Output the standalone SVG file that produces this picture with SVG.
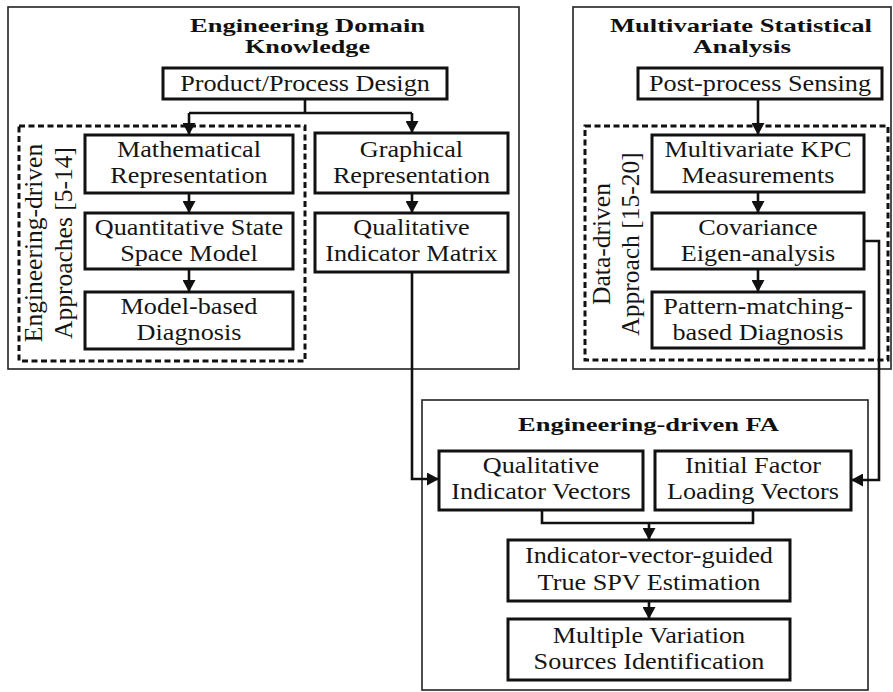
<svg xmlns="http://www.w3.org/2000/svg" width="893" height="692" viewBox="0 0 893 692">
  <defs>
    <marker id="arrow" viewBox="0 0 12 13" refX="12" refY="6.5" markerWidth="12" markerHeight="13" markerUnits="userSpaceOnUse" orient="auto">
      <path d="M0,0 L12,6.5 L0,13 z" fill="#111"/>
    </marker>
    <style>
      .outer { fill: none; stroke: #222; stroke-width: 1.6; }
      .group { fill: none; stroke: #111; stroke-width: 3; stroke-dasharray: 6 3.5; }
      .box { fill: #fff; stroke: #111; stroke-width: 3; }
      .lbl { font-family: "Liberation Serif", "Times New Roman", serif; font-size: 23px; fill: #151515; text-anchor: middle;
             transform-box: fill-box; transform-origin: center; transform: scaleX(1.14); }
      .vlbl { font-family: "Liberation Serif", "Times New Roman", serif; font-size: 25.5px; fill: #151515; text-anchor: middle; }
      .title { font-family: "Liberation Serif", "Times New Roman", serif; font-size: 19px; font-weight: bold; fill: #111; text-anchor: middle; }
      .link { fill: none; stroke: #111; stroke-width: 2.6; }
      .arr { marker-end: url(#arrow); }
    </style>
  </defs>
  <rect width="893" height="692" fill="#fff"/>

  <!-- panels -->
  <g id="panel-domain">
    <rect class="outer" x="8" y="7" width="511" height="362"/>
    <text class="title" x="307.5" y="31.5" textLength="235" lengthAdjust="spacingAndGlyphs">Engineering Domain</text>
    <text class="title" x="307.5" y="53" textLength="125" lengthAdjust="spacingAndGlyphs">Knowledge</text>
  </g>
  <g id="panel-statistics">
    <rect class="outer" x="573" y="7" width="318" height="362"/>
    <text class="title" x="741" y="31.5" textLength="262" lengthAdjust="spacingAndGlyphs">Multivariate Statistical</text>
    <text class="title" x="742" y="53" textLength="98" lengthAdjust="spacingAndGlyphs">Analysis</text>
  </g>
  <g id="panel-fa">
    <rect class="outer" x="422" y="400" width="446" height="290"/>
    <text class="title" x="648.5" y="431" textLength="261" lengthAdjust="spacingAndGlyphs">Engineering-driven FA</text>
  </g>

  <!-- dashed approach groups -->
  <g id="group-engineering">
    <rect class="group" x="19" y="126" width="286" height="235"/>
    <text class="vlbl" transform="translate(42,243) rotate(-90)">Engineering-driven</text>
    <text class="vlbl" transform="translate(72,243) rotate(-90)">Approaches [5-14]</text>
  </g>
  <g id="group-data">
    <rect class="group" x="585" y="126" width="303" height="234"/>
    <text class="vlbl" transform="translate(610,244) rotate(-90)">Data-driven</text>
    <text class="vlbl" transform="translate(639,244) rotate(-90)">Approach [15-20]</text>
  </g>

  <!-- connectors -->
  <g id="connectors">
    <path class="link" d="M305,99 V113 M189,113 H412"/>
    <path class="link arr" d="M189,113 V135"/>
    <path class="link arr" d="M412,113 V133"/>
    <path class="link arr" d="M189,193 V213"/>
    <path class="link arr" d="M189,269 V292"/>
    <path class="link arr" d="M412,193 V213"/>
    <path class="link arr" d="M412,272 V479 H439"/>
    <path class="link arr" d="M758,99 V135"/>
    <path class="link arr" d="M758,192 V213"/>
    <path class="link arr" d="M758,269 V292"/>
    <path class="link arr" d="M864,241 H879 V480 H851"/>
    <path class="link" d="M542,510 V523 H753 V510"/>
    <path class="link arr" d="M649,523 V540"/>
    <path class="link arr" d="M649,601 V619"/>
  </g>

  <!-- nodes -->
  <g id="product-process-design">
    <rect class="box" x="163" y="68" width="284" height="31"/>
    <text class="lbl" x="305" y="91">Product/Process Design</text>
  </g>
  <g id="mathematical-representation">
    <rect class="box" x="85" y="135" width="208" height="58"/>
    <text class="lbl" x="189" y="157">Mathematical</text>
    <text class="lbl" x="189" y="183">Representation</text>
  </g>
  <g id="state-space-model">
    <rect class="box" x="85" y="213" width="208" height="56"/>
    <text class="lbl" x="189" y="235">Quantitative State</text>
    <text class="lbl" x="189" y="261">Space Model</text>
  </g>
  <g id="model-based-diagnosis">
    <rect class="box" x="85" y="292" width="208" height="57"/>
    <text class="lbl" x="189" y="314">Model-based</text>
    <text class="lbl" x="189" y="340">Diagnosis</text>
  </g>
  <g id="graphical-representation">
    <rect class="box" x="315" y="133" width="193" height="60"/>
    <text class="lbl" x="411.5" y="157">Graphical</text>
    <text class="lbl" x="411.5" y="183">Representation</text>
  </g>
  <g id="indicator-matrix">
    <rect class="box" x="315" y="213" width="193" height="59"/>
    <text class="lbl" x="411.5" y="235">Qualitative</text>
    <text class="lbl" x="411.5" y="261">Indicator Matrix</text>
  </g>
  <g id="post-process-sensing">
    <rect class="box" x="638" y="68" width="244" height="31"/>
    <text class="lbl" x="760" y="91">Post-process Sensing</text>
  </g>
  <g id="kpc-measurements">
    <rect class="box" x="652" y="135" width="212" height="57"/>
    <text class="lbl" x="758" y="157">Multivariate KPC</text>
    <text class="lbl" x="758" y="183">Measurements</text>
  </g>
  <g id="covariance-eigen-analysis">
    <rect class="box" x="652" y="213" width="212" height="56"/>
    <text class="lbl" x="758" y="235">Covariance</text>
    <text class="lbl" x="758" y="261">Eigen-analysis</text>
  </g>
  <g id="pattern-matching-diagnosis">
    <rect class="box" x="652" y="292" width="212" height="56"/>
    <text class="lbl" x="758" y="314">Pattern-matching-</text>
    <text class="lbl" x="758" y="340">based Diagnosis</text>
  </g>
  <g id="indicator-vectors">
    <rect class="box" x="439" y="451" width="204" height="59"/>
    <text class="lbl" x="541" y="473">Qualitative</text>
    <text class="lbl" x="541" y="499">Indicator Vectors</text>
  </g>
  <g id="factor-loading-vectors">
    <rect class="box" x="655" y="451" width="196" height="59"/>
    <text class="lbl" x="753" y="473">Initial Factor</text>
    <text class="lbl" x="753" y="499">Loading Vectors</text>
  </g>
  <g id="spv-estimation">
    <rect class="box" x="508" y="540" width="282" height="61"/>
    <text class="lbl" x="649" y="563">Indicator-vector-guided</text>
    <text class="lbl" x="649" y="590">True SPV Estimation</text>
  </g>
  <g id="variation-sources">
    <rect class="box" x="508" y="619" width="282" height="61"/>
    <text class="lbl" x="649" y="643">Multiple Variation</text>
    <text class="lbl" x="649" y="669">Sources Identification</text>
  </g>
</svg>
